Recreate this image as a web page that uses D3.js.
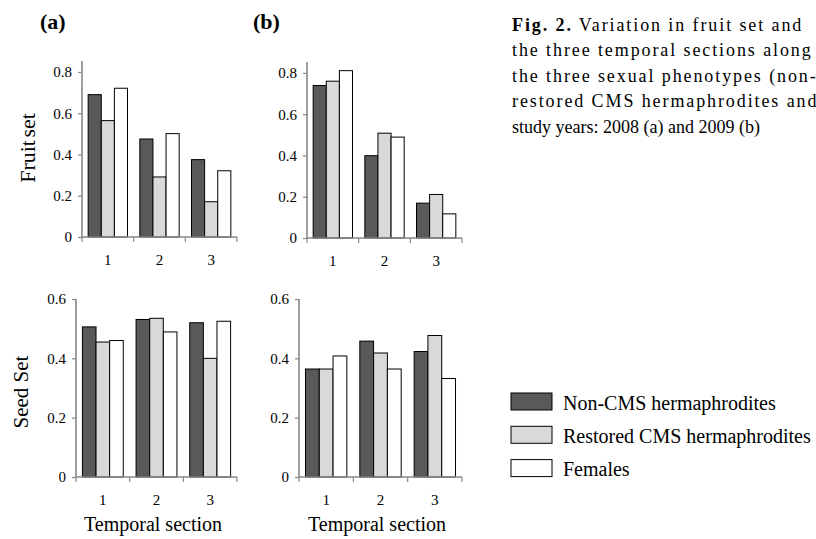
<!DOCTYPE html>
<html>
<head>
<meta charset="utf-8">
<script src="https://cdn.jsdelivr.net/npm/d3@7"></script>
<style>
  body { margin: 0; background: #fff; }
  text { font-family: "Liberation Serif", "Times New Roman", serif; fill: #000; }
</style>
</head>
<body>
<div id="chart"></div>
<script>
// temporal sections and phenotypes
var sections = ["1", "2", "3"];
var phenotypes = ["Non-CMS hermaphrodites", "Restored CMS hermaphrodites", "Females"];
var fills = ["#595959", "#d9d9d9", "#ffffff"];

// values per section: [non-CMS, restored CMS, females]
var fruitSet2008 = [[0.69, 0.564, 0.721], [0.475, 0.291, 0.501], [0.375, 0.171, 0.321]];
var fruitSet2009 = [[0.739, 0.760, 0.811], [0.399, 0.508, 0.489], [0.169, 0.211, 0.117]];
var seedSet2008 = [[0.506, 0.455, 0.460], [0.531, 0.535, 0.489], [0.520, 0.400, 0.525]];
var seedSet2009 = [[0.364, 0.364, 0.408], [0.458, 0.418, 0.364], [0.423, 0.477, 0.332]];

var fruitTicks = [0, 0.2, 0.4, 0.6, 0.8];
var seedTicks = [0, 0.2, 0.4, 0.6];

// justified caption lines (the last one is not stretched)
var captionLines = [
    "the three temporal sections along",
    "the three sexual phenotypes (non-",
    "restored CMS hermaphrodites and"
];
var captionLast = "study years: 2008 (a) and 2009 (b)";

var w = 816, h = 539;
var svg = d3.select("#chart").append("svg")
    .attr("width", w)
    .attr("height", h);

function panel(data, ticks, ymax, left, right, y0, ytop) {
    var g = svg.append("g");
    var x = d3.scaleBand().domain(sections).range([left, right]).padding(0);
    var inner = d3.scaleBand().domain(d3.range(phenotypes.length))
        .range([0, x.bandwidth()]).paddingInner(0).paddingOuter(0.47);
    var y = d3.scaleLinear().domain([0, ymax]).range([y0, ytop]);

    // bars
    var groups = g.selectAll(".grp").data(data).enter().append("g")
        .attr("transform", function(d, i) { return "translate(" + x(sections[i]) + ",0)"; });
    groups.selectAll("rect").data(function(d) { return d; }).enter().append("rect")
        .attr("x", function(d, i) { return inner(i); })
        .attr("y", function(d) { return y(d); })
        .attr("width", inner.bandwidth())
        .attr("height", function(d) { return y0 - y(d); })
        .attr("fill", function(d, i) { return fills[i]; })
        .attr("stroke", "#000")
        .attr("stroke-width", 1);

    // y axis
    var yAxis = d3.axisLeft(y).tickValues(ticks).tickSize(4).tickPadding(6)
        .tickFormat(function(d) { return d === 0 ? "0" : d.toFixed(1); });
    var ya = g.append("g").attr("transform", "translate(" + left + ",0)").call(yAxis);
    ya.select(".domain").attr("stroke", "#888").attr("stroke-width", 1.6)
        .attr("d", "M0," + y0 + "V" + ytop);
    ya.selectAll(".tick line").attr("stroke", "#888").attr("stroke-width", 1.2);
    ya.selectAll(".tick text").style("font-family", "Liberation Serif").style("font-size", "15px");

    // x axis line with boundary ticks
    var bounds = sections.map(function(s) { return x(s); }).concat([x.range()[1]]);
    g.append("line").attr("x1", left).attr("x2", right).attr("y1", y0).attr("y2", y0)
        .attr("stroke", "#888").attr("stroke-width", 1.6);
    g.selectAll(".bt").data(bounds).enter().append("line")
        .attr("x1", function(d) { return d; }).attr("x2", function(d) { return d; })
        .attr("y1", y0).attr("y2", y0 + 5)
        .attr("stroke", "#888").attr("stroke-width", 1.2);
    g.selectAll(".xl").data(sections).enter().append("text")
        .attr("x", function(d) { return x(d) + x.bandwidth() / 2; })
        .attr("y", y0 + 28)
        .attr("text-anchor", "middle")
        .style("font-size", "15px")
        .text(function(d) { return d; });
    return x;
}

panel(fruitSet2008, fruitTicks, 0.853, 82, 237, 237, 61);
panel(fruitSet2009, fruitTicks, 0.853, 307, 462, 238, 62);
panel(seedSet2008, seedTicks, 0.6, 76, 237, 477, 299);
panel(seedSet2009, seedTicks, 0.6, 299, 462, 477, 299);

// panel letters
svg.append("text").attr("x", 40).attr("y", 29).style("font-size", "22px").style("font-weight", "bold").text("(a)");
svg.append("text").attr("x", 253).attr("y", 29).style("font-size", "22px").style("font-weight", "bold").text("(b)");

// axis titles
svg.append("text").attr("transform", "translate(35,148) rotate(-90)")
    .attr("text-anchor", "middle").style("font-size", "22px").style("word-spacing", "-3px").text("Fruit set");
svg.append("text").attr("transform", "translate(28,392) rotate(-90)")
    .attr("text-anchor", "middle").style("font-size", "21px").text("Seed Set");
svg.append("text").attr("x", 153).attr("y", 531).attr("text-anchor", "middle")
    .style("font-size", "20px").text("Temporal section");
svg.append("text").attr("x", 377).attr("y", 531).attr("text-anchor", "middle")
    .style("font-size", "20px").text("Temporal section");

// caption
var cap = svg.append("g").style("font-size", "18px");
var first = cap.append("text").attr("x", 512).attr("y", 31).style("letter-spacing", "1.9px");
first.append("tspan").style("font-weight", "bold").text("Fig. 2.");
first.append("tspan").text(" Variation in fruit set and");
cap.selectAll(".cl").data(captionLines).enter().append("text")
    .attr("x", 512)
    .attr("y", function(d, i) { return 56 + i * 25.7; })
    .style("letter-spacing", "1.9px")
    .text(function(d) { return d; });
cap.append("text").attr("x", 512).attr("y", 56 + 3 * 25.7).text(captionLast);

// legend
var leg = svg.append("g");
leg.selectAll("rect").data(phenotypes).enter().append("rect")
    .attr("x", 511).attr("y", function(d, i) { return 393 + i * 33.3; })
    .attr("width", 41).attr("height", 17)
    .attr("fill", function(d, i) { return fills[i]; })
    .attr("stroke", "#000").attr("stroke-width", 1);
leg.selectAll("text").data(phenotypes).enter().append("text")
    .attr("x", 563).attr("y", function(d, i) { return 410 + i * 33; })
    .style("font-size", "20px")
    .text(function(d) { return d; });
</script>
</body>
</html>
